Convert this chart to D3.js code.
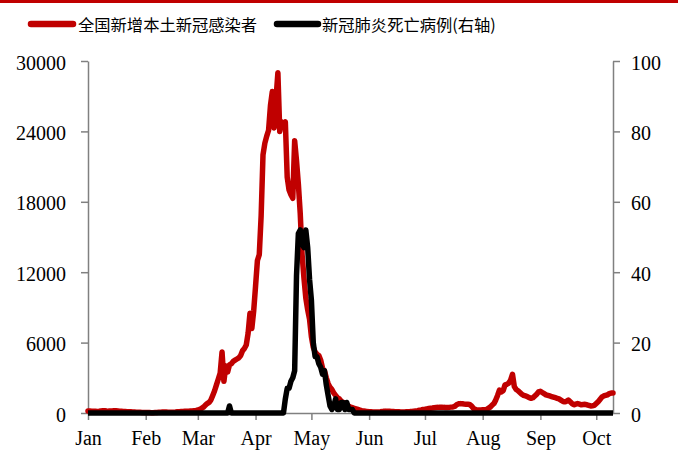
<!DOCTYPE html>
<html>
<head>
<meta charset="utf-8">
<script src="https://cdn.jsdelivr.net/npm/d3@7"></script>
<style>
  html, body { margin: 0; padding: 0; background: #fff; }
  svg { display: block; }
</style>
</head>
<body>
<svg id="chart" width="678" height="450"></svg>
<script>
// ---------------- DATA ----------------
const seriesNames = ["全国新增本土新冠感染者", "新冠肺炎死亡病例(右轴)"];
const startDate = "2022-01-01";
const endDate = "2022-10-10";
const monthTicks = ["2022-01-01","2022-02-01","2022-03-01","2022-04-01","2022-05-01","2022-06-01","2022-07-01","2022-08-01","2022-09-01","2022-10-01"];
const leftTicks = [0, 6000, 12000, 18000, 24000, 30000];
const rightTicks = [0, 20, 40, 60, 80, 100];

// daily new local infections (left axis), one array per month
const casesJan = [180,175,160,150,140,130,150,180,200,190,170,160,165,180,200,190,170,150,140,130,120,110,100,100,90,80,70,60,60,50,50];
const casesFeb = [50,40,40,30,30,40,50,60,70,80,90,80,70,60,60,70,80,100,110,120,130,140,150,160,170,180,200,220];
const casesMar = [250,300,400,500,650,800,900,1100,1500,1900,2400,2900,3400,5200,2700,4000,3500,4100,4200,4400,4500,4600,4700,4900,5300,5500,5800,6800,8500,7200,8700];
const casesApr = [10800,13000,13500,16800,22000,23000,23600,24100,26200,27400,24300,26800,29000,24000,24800,24600,24800,20100,19000,18600,18300,23200,21500,19500,17000,13500,11500,9800,8800,8000];
const casesMay = [6500,5600,5200,5000,4900,4500,3800,3600,3000,2500,2200,2000,1700,1500,1300,1200,1000,900,800,700,600,500,450,400,350,300,250,200,180,150,120];
const casesJun = [110,100,90,80,80,90,100,120,150,160,150,140,130,120,110,100,100,90,80,90,100,110,120,140,160,180,200,230,260,300];
const casesJul = [320,350,380,400,420,450,470,480,500,500,480,470,460,480,500,520,560,700,780,800,780,760,750,740,720,600,400,300,250,250,260];
const casesAug = [270,280,300,400,500,650,800,1100,1500,1950,1800,1900,2400,2450,2550,2800,3300,2250,2000,1900,1750,1600,1500,1450,1400,1300,1250,1300,1450,1600,1800];
const casesSep = [1850,1750,1650,1550,1500,1450,1400,1350,1300,1250,1200,1100,1000,950,1000,1100,950,800,700,750,800,750,700,720,740,700,650,600,620,650];
const casesOct = [800,950,1150,1350,1450,1500,1550,1650,1700,1700];

// deaths (right axis): dates and values (0 elsewhere)
const deathDates = ["2022-01-01","2022-03-17","2022-03-18","2022-03-19","2022-04-16","2022-04-17","2022-04-18","2022-04-19","2022-04-20","2022-04-21","2022-04-22","2022-04-23","2022-04-24","2022-04-25","2022-04-26","2022-04-27","2022-04-28","2022-04-29","2022-04-30","2022-05-01","2022-05-02","2022-05-03","2022-05-04","2022-05-05","2022-05-06","2022-05-07","2022-05-08","2022-05-09","2022-05-10","2022-05-11","2022-05-12","2022-05-13","2022-05-14","2022-05-15","2022-05-16","2022-05-17","2022-05-18","2022-05-19","2022-05-20","2022-05-21","2022-05-22","2022-05-23","2022-05-24","2022-10-10"];
const deathValues = [0,0,2,0,0,4,7,7,9,10,12,39,51,52,48,47,52,47,38,32,20,16,16,14,13,11,12,8,5,2,1,2,4,1,1,3,3,1,3,1,1,1,0,0];

// ---------------- CHART ----------------
const parse = d3.timeParse("%Y-%m-%d");
const t0 = parse(startDate);
const casesAll = [].concat(casesJan, casesFeb, casesMar, casesApr, casesMay, casesJun, casesJul, casesAug, casesSep, casesOct);
const casesData = casesAll.map((v, i) => ({ date: d3.timeDay.offset(t0, i), value: v }));
const deathData = deathDates.map((d, i) => ({ date: parse(d), value: deathValues[i] }));

const svg = d3.select("#chart");
const RED = "#C00000";
const AXIS = "#808080";
const FONT = "'Liberation Serif', 'Times New Roman', serif";

// top red rule
svg.append("rect").attr("x", 0).attr("y", 0).attr("width", 678).attr("height", 3).attr("fill", RED);

const x = d3.scaleTime().domain([parse(startDate), parse(endDate)]).range([88, 613]);
const yL = d3.scaleLinear().domain([0, 30000]).range([413, 61]);
const yR = d3.scaleLinear().domain([0, 100]).range([413, 61]);

function styleAxis(g) {
  g.select(".domain").attr("stroke", AXIS).attr("stroke-width", 1.5);
  g.selectAll(".tick line").attr("stroke", AXIS).attr("stroke-width", 1.5);
  g.selectAll(".tick text").attr("fill", "#000").style("font-family", FONT).style("font-size", "20px");
}

const gx = svg.append("g").attr("transform", "translate(0,413)")
  .call(d3.axisBottom(x).tickValues(monthTicks.map(parse)).tickFormat(d3.timeFormat("%b")).tickSize(7).tickSizeOuter(0).tickPadding(10.5));
styleAxis(gx);

const gl = svg.append("g").attr("transform", "translate(88,0)")
  .call(d3.axisLeft(yL).tickValues(leftTicks).tickFormat(d3.format("d")).tickSize(7).tickSizeOuter(0).tickPadding(15));
styleAxis(gl);
gl.selectAll(".tick text").attr("dy", "0.4em");

const gr = svg.append("g").attr("transform", "translate(613,0)")
  .call(d3.axisRight(yR).tickValues(rightTicks).tickFormat(d3.format("d")).tickSize(7).tickSizeOuter(0).tickPadding(11));
styleAxis(gr);
gr.selectAll(".tick text").attr("dy", "0.4em");

// lines
const lineL = d3.line().x(d => x(d.date)).y(d => yL(d.value));
const lineR = d3.line().x(d => x(d.date)).y(d => yR(d.value));

svg.append("path").datum(casesData).attr("d", lineL)
  .attr("fill", "none").attr("stroke", RED).attr("stroke-width", 5.5).attr("stroke-linejoin", "round").attr("stroke-linecap", "round");
svg.append("path").datum(deathData).attr("d", lineR)
  .attr("fill", "none").attr("stroke", "#000").attr("stroke-width", 5.5).attr("stroke-linejoin", "round").attr("stroke-linecap", "butt");

// legend
const legend = [
  { name: seriesNames[0], color: RED, x1: 31, x2: 73, tx: 78 },
  { name: seriesNames[1], color: "#000", x1: 277, x2: 318, tx: 322 }
];
legend.forEach(l => {
  svg.append("line").attr("x1", l.x1).attr("x2", l.x2).attr("y1", 24).attr("y2", 24)
    .attr("stroke", l.color).attr("stroke-width", 6.5).attr("stroke-linecap", "round");
  svg.append("text").attr("x", l.tx).attr("y", 24).attr("dominant-baseline", "central")
    .style("font-family", "'Noto Sans CJK SC', sans-serif").style("font-size", "16.3px").attr("fill", "#000")
    .text(l.name);
});
</script>
</body>
</html>
